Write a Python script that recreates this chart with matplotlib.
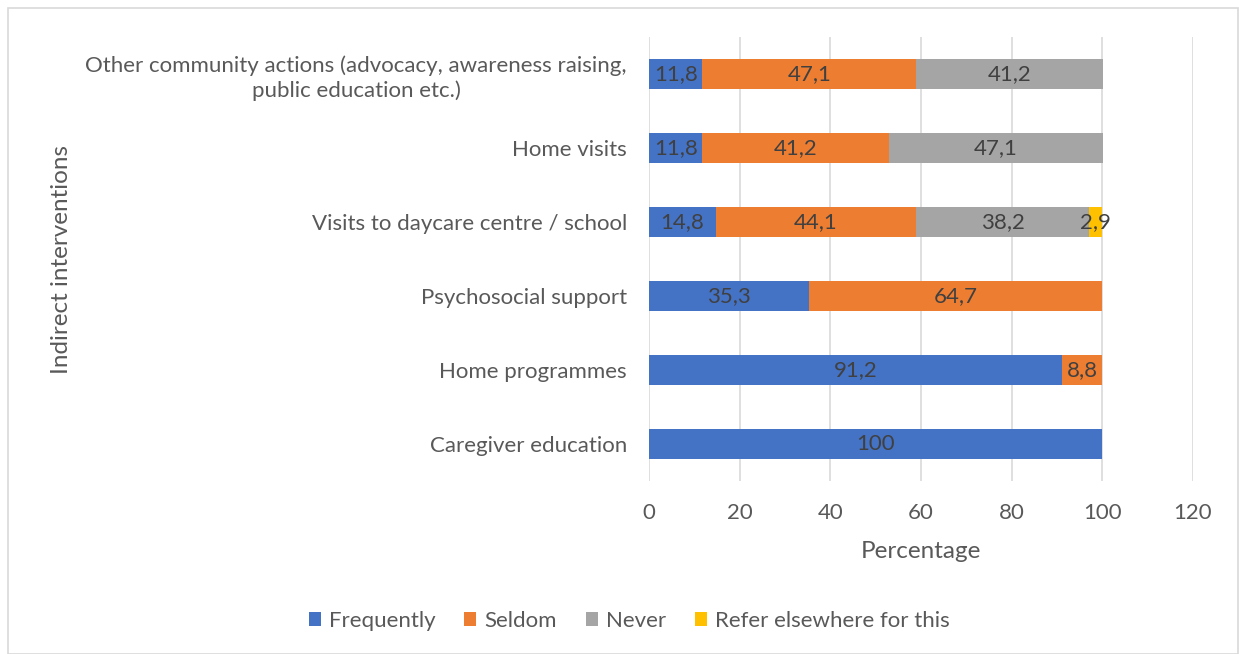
import matplotlib.pyplot as plt
from matplotlib.patches import Rectangle
import numpy as np

categories = ["Caregiver education", "Home programmes", "Psychosocial support",
              "Visits to daycare centre / school", "Home visits",
              "Other community actions (advocacy, awareness raising,\npublic education etc.)"]
frequently = [100, 91.2, 35.3, 14.8, 11.8, 11.8]
seldom = [0, 8.8, 64.7, 44.1, 41.2, 47.1]
never = [0, 0, 0, 38.2, 47.1, 41.2]
refer = [0, 0, 0, 2.9, 0, 0]
series_names = ["Frequently", "Seldom", "Never", "Refer elsewhere for this"]
colors = ["#4472C4", "#ED7D31", "#A5A5A5", "#FFC000"]
xticks = [0, 20, 40, 60, 80, 100, 120]

plt.rcParams['font.family'] = ['Lato', 'DejaVu Sans']
txt = "#595959"
fs = 16

fig = plt.figure(figsize=(12.39, 6.54), dpi=100)
fig.patches.append(Rectangle((8/1239, 0), 1 - 9/1239, 1 - 8/654, transform=fig.transFigure,
                             fill=False, edgecolor="#D9D9D9", linewidth=1.2))
ax = fig.add_axes([649/1239, 1 - 481/654, (1193-649)/1239, 444/654])

y = np.arange(len(categories))
left = np.zeros(len(categories))
for name, vals, c in zip(series_names, [frequently, seldom, never, refer], colors):
    vals = np.array(vals, dtype=float)
    ax.barh(y, vals, left=left, height=0.41, color=c, label=name, zorder=3)
    for i, v in enumerate(vals):
        if v > 0:
            lbl = (f"{v:g}").replace(".", ",")
            ax.text(left[i] + v / 2, y[i], lbl, ha="center", va="center",
                    fontsize=fs, color="#404040", zorder=4)
    left += vals

ax.set_xlim(0, 120)
ax.set_ylim(-0.5, len(categories) - 0.5)
ax.set_xticks(xticks)
ax.set_xticklabels([str(t) for t in xticks], fontsize=fs, color=txt)
ax.set_yticks(y)
ax.set_yticklabels(categories, fontsize=fs, color=txt, ha="right",
                   multialignment="center", linespacing=1.25)
ax.tick_params(axis="x", length=0, pad=16)
ax.tick_params(axis="y", length=0, pad=16)
ax.grid(axis="x", color="#D9D9D9", linewidth=1.2, zorder=0)
for s in ax.spines.values():
    s.set_visible(False)
ax.set_xlabel("Percentage", fontsize=17.5, color=txt, labelpad=13)
fig.text(62/1239, 1 - 259/654, "Indirect interventions", rotation=90, fontsize=17.5,
         color=txt, ha="center", va="center")

fig.legend(loc="center", bbox_to_anchor=(629/1239, 1 - 621/654), ncol=4, frameon=False,
           fontsize=fs, labelcolor=txt, handlelength=0.55, handleheight=0.55,
           columnspacing=1.3, handletextpad=0.35)

fig.savefig("out.png", dpi=100)
